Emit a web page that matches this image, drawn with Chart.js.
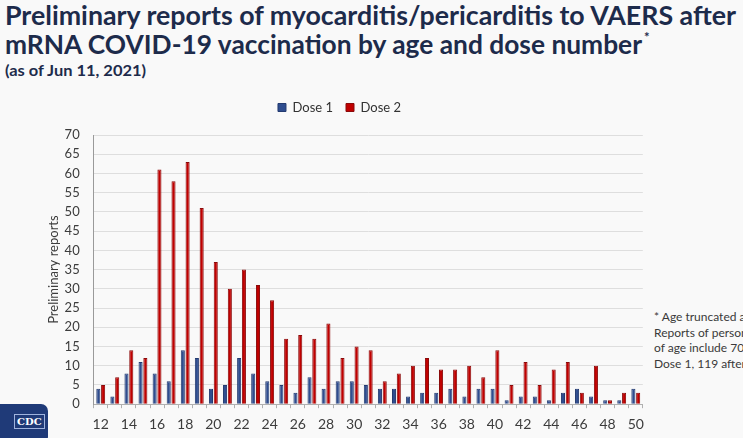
<!DOCTYPE html>
<html>
<head>
<meta charset="utf-8">
<script src="https://cdn.jsdelivr.net/npm/chart.js@4"></script>
<style>
  html, body { margin: 0; padding: 0; width: 743px; height: 438px; overflow: hidden; background: #f9f9f9; }
  .Title { position: absolute; left: 5px; font-family: Lato, "Open Sans", sans-serif; font-weight: 700; color: #1d2b4b; white-space: nowrap; transform-origin: 0 0; line-height: 1.2; }
  #Line1 { top: 0px; font-size: 26px; }
  #Line2 { top: 29px; font-size: 26px; }
  #Line2 sup { font-size: 13px; vertical-align: top; position: relative; top: 1px; margin-left: 2px; }
  #Sub { top: 61px; font-size: 15px; }
  #Note { position: absolute; left: 654px; top: 309px; width: 89px; overflow: hidden; font-family: Lato, sans-serif; font-size: 12px; line-height: 15.5px; color: #3a3a3a; white-space: nowrap; }
  #Logo { position: absolute; left: -8px; top: 404px; width: 56px; height: 40px; background: #1f3a78; border-radius: 7px; }
  #Logo span { position: absolute; left: 22px; top: 10px; padding: 1px 2px; border: 1px solid #9fb3dd; font-family: "DejaVu Serif", serif; font-size: 10px; font-weight: 700; color: #fff; }
  #ChartBox { position: absolute; left: 0; top: 88px; width: 652px; height: 353px; }
</style>
</head>
<body>
<div class="Title" id="Line1">Preliminary reports of myocarditis/pericarditis to VAERS after</div>
<div class="Title" id="Line2"><span id="Line2Text">mRNA COVID-19 vaccination by age and dose number</span><sup>*</sup></div>
<div class="Title" id="Sub">(as of Jun 11, 2021)</div>
<div id="Note">* Age truncated at 50<br>Reports of persons<br>of age include 70<br>Dose 1, 119 after</div>
<div id="Logo"><span>CDC</span></div>
<div id="ChartBox"><canvas id="Chart"></canvas></div>
<script>
const Ages = [12, 13, 14, 15, 16, 17, 18, 19, 20, 21, 22, 23, 24, 25, 26, 27, 28, 29, 30, 31,
  32, 33, 34, 35, 36, 37, 38, 39, 40, 41, 42, 43, 44, 45, 46, 47, 48, 49, 50];
const Dose1 = [4, 2, 8, 11, 8, 6, 14, 12, 4, 5, 12, 8, 6, 5, 3, 7, 4, 6, 6, 5,
  4, 4, 2, 3, 3, 4, 2, 4, 4, 1, 2, 2, 1, 3, 4, 2, 1, 1, 4];
const Dose2 = [5, 7, 14, 12, 61, 58, 63, 51, 37, 30, 35, 31, 27, 17, 18, 17, 21, 12, 15, 14,
  6, 8, 10, 12, 9, 9, 10, 7, 14, 5, 11, 5, 9, 11, 3, 10, 1, 3, 3];
const YMax = 70;
const YStep = 5;

// the slide uses a condensed face, squeeze each title line to the width it has there
function FitWidth(Id, MeasureId, Target) {
  const W = document.getElementById(MeasureId).getBoundingClientRect().width;
  document.getElementById(Id).style.transform = `scaleX(${Target / W})`;
}
FitWidth("Line1", "Line1", 731);
FitWidth("Line2", "Line2Text", 637);
FitWidth("Sub", "Sub", 141);

// extra room between the legend and the plot
const LegendGap = {
  id: "LegendGap",
  beforeInit(chart) {
    const OrigFit = chart.legend.fit;
    chart.legend.fit = function () {
      OrigFit.bind(chart.legend)();
      this.height += 11;
    };
  },
};

const TickColor = "#3c3c3c";
const Config = {
  type: "bar",
  data: {
    labels: Ages,
    datasets: [
      { label: "Dose 1", data: Dose1, backgroundColor: "#2f4d8f", borderColor: "#233a70", borderWidth: 1 },
      { label: "Dose 2", data: Dose2, backgroundColor: "#c00000", borderColor: "#8a0a0a", borderWidth: 1 },
    ],
  },
  options: {
    responsive: true,
    maintainAspectRatio: false,
    animation: false,
    layout: { padding: { left: 35, right: 8, top: 0, bottom: 0 } },
    datasets: { bar: { categoryPercentage: 0.68, barPercentage: 0.85 } },
    plugins: {
      legend: {
        labels: {
          color: "#333",
          font: { family: "Lato", size: 13 },
          boxWidth: 8,
          boxHeight: 8,
          padding: 13,
        },
      },
      tooltip: { enabled: false },
    },
    scales: {
      x: {
        offset: true,
        grid: { display: true, offset: true, drawOnChartArea: false, tickLength: 4, color: "#b0b0b0" },
        border: { color: "#b0b0b0" },
        ticks: {
          color: TickColor,
          font: { family: "Lato", size: 14 },
          autoSkip: false,
          maxRotation: 0,
          padding: 8,
          callback: (Value, Index) => (Index % 2 === 0 ? Ages[Index] : ""),
        },
      },
      y: {
        min: 0,
        max: YMax,
        ticks: { stepSize: YStep, color: TickColor, font: { family: "Lato", size: 13 }, padding: 14 },
        grid: { color: "#dedede", drawTicks: false },
        border: { color: "#9a9a9a" },
        title: {
          display: true,
          text: "Preliminary reports",
          color: TickColor,
          font: { family: "Lato", size: 13 },
          padding: { top: 11, bottom: -11 },
        },
      },
    },
  },
  plugins: [LegendGap],
};

new Chart(document.getElementById("Chart"), Config);
</script>
</body>
</html>
